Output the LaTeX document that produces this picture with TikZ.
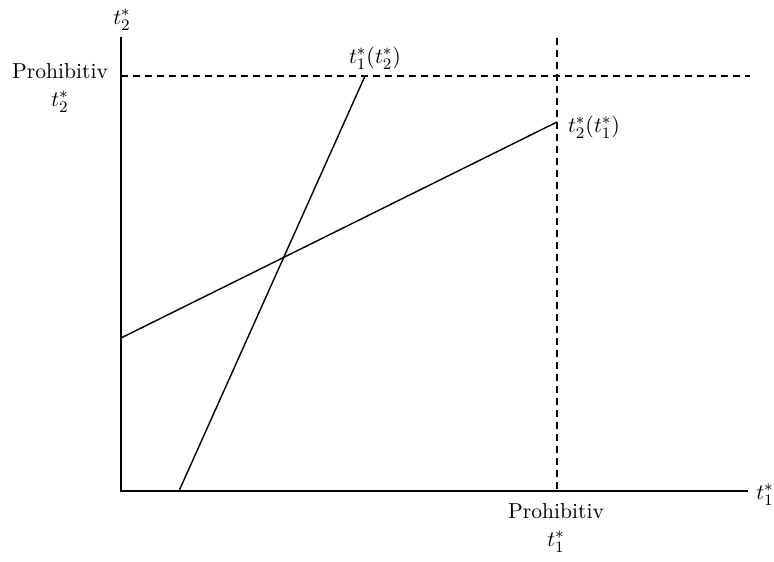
\documentclass[tikz,border=0pt]{standalone}
\usepackage{amsmath}
\usetikzlibrary{arrows,calc}
\tikzset{every picture/.style={/utils/exec={\fontsize{10.8}{13}\selectfont}}}
\tikzset{axis/.style={line width=0.9pt},
  curve/.style={line width=0.7pt},
  guide/.style={line width=0.6pt,dash pattern=on 3.5pt off 2.5pt}}

\begin{document}
\begin{tikzpicture}[x=0.5pt,y=-0.5pt]
    \useasboundingbox (0,0) rectangle (774,561);
    \coordinate (o) at (121,491);
    \coordinate (ytop) at (121,37);
    \coordinate (xend) at (748,491);
    \draw [axis] (ytop) -- (o) -- (xend);
    \node (ylab) at (122,20) {$t_2^*$};
    \node (xlab) at (765,495) {$t_1^*$};
    % prohibitive rates
    \coordinate (h0) at (121,76);
    \coordinate (h1) at (750,76);
    \coordinate (v0) at (557,38);
    \coordinate (v1) at (557,491);
    \draw [guide] (h0) -- (h1);
    \draw [guide] (v0) -- (v1);
    \node [align=center] (py) at (60,88) {Prohibitiv\\[1pt]$t_2^*$};
    \node [align=center] (px) at (556,528) {Prohibitiv\\[1pt]$t_1^*$};
    % reaction functions
    \coordinate (a0) at (179,491);
    \coordinate (a1) at (365,76);
    \coordinate (b0) at (121,338);
    \coordinate (b1) at (557,122);
    \draw [curve] (a0) -- (a1);
    \draw [curve] (b0) -- (b1);
    \node (la) at (375,58) {$t_1^*(t_2^*)$};
    \node (lb) at (594,127) {$t_2^*(t_1^*)$};
\end{tikzpicture}
\end{document}
